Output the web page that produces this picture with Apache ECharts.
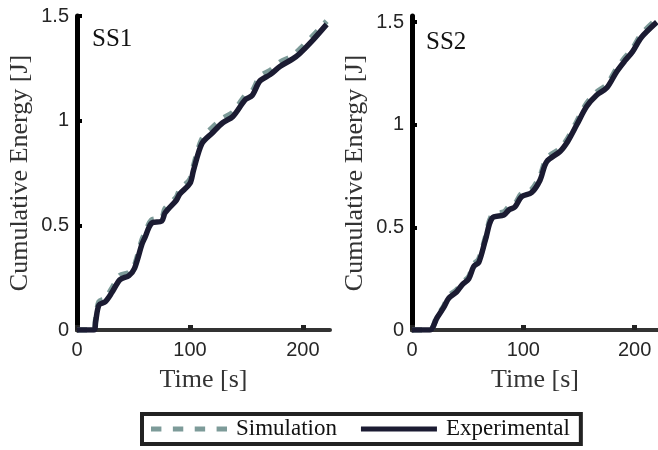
<!DOCTYPE html>
<html>
<head>
<meta charset="utf-8">
<script src="https://cdn.jsdelivr.net/npm/echarts@6/dist/echarts.min.js"></script>
<style>
html,body{margin:0;padding:0;background:#fff;}
#chart{width:658px;height:450px;}
</style>
</head>
<body>
<div id="chart"></div>
<script>
// ---- Data ----
const panelTitles = ['SS1', 'SS2'];
const seriesNames = ['Simulation', 'Experimental'];

const ss1Time = [0, 15, 16.5, 19.5, 25, 31, 38, 46, 51, 57.5, 60, 66, 75, 78, 88, 91, 100, 103, 110.5, 119.5, 129, 138, 149, 155, 162, 171, 180, 191, 197, 208, 221];
const ss1Exp  = [0, 0, 0.04, 0.12, 0.135, 0.18, 0.24, 0.26, 0.295, 0.41, 0.44, 0.51, 0.52, 0.56, 0.62, 0.65, 0.70, 0.76, 0.89, 0.94, 0.99, 1.02, 1.10, 1.12, 1.19, 1.22, 1.26, 1.295, 1.32, 1.38, 1.46];
const ss1Sim  = [0, 0, 0.05, 0.135, 0.15, 0.2, 0.26, 0.275, 0.31, 0.43, 0.46, 0.525, 0.535, 0.58, 0.635, 0.67, 0.72, 0.78, 0.91, 0.965, 1.01, 1.04, 1.12, 1.14, 1.21, 1.24, 1.28, 1.31, 1.34, 1.40, 1.475];

const ss2Time = [0, 16, 22.5, 28.5, 33, 40, 45, 51, 55.5, 60, 66, 72, 82.5, 87, 92.5, 98.5, 107.5, 115, 121, 133, 140, 148, 157, 166, 175, 184, 191, 198, 206, 220];
const ss2Exp  = [0, 0, 0.06, 0.11, 0.155, 0.185, 0.22, 0.25, 0.31, 0.33, 0.44, 0.545, 0.56, 0.585, 0.60, 0.65, 0.67, 0.73, 0.82, 0.87, 0.92, 1.0, 1.09, 1.145, 1.18, 1.26, 1.31, 1.355, 1.425, 1.50];
const ss2Sim  = [0, 0, 0.065, 0.115, 0.165, 0.195, 0.23, 0.26, 0.32, 0.345, 0.45, 0.56, 0.575, 0.60, 0.615, 0.665, 0.685, 0.75, 0.835, 0.885, 0.935, 1.015, 1.105, 1.16, 1.195, 1.275, 1.325, 1.37, 1.44, 1.515];

const xTicks = [0, 100, 200];
const yTicks = [0, 0.5, 1, 1.5];

// ---- Build ----
function pairs(t, v) { return t.map((x, i) => [x, v[i]]); }

const serif = 'Liberation Serif';
const sans = 'Liberation Sans';

function xAxis(idx, max) {
  return {
    type: 'value', gridIndex: idx, min: 0, max: max, interval: 100,
    name: 'Time [s]', nameLocation: 'middle', nameGap: 37,
    nameTextStyle: { fontFamily: serif, fontSize: 26, color: '#333' },
    axisLine: { show: true, lineStyle: { color: '#333', width: 4 } },
    axisTick: { show: true, inside: true, length: 5, lineStyle: { color: '#222', width: 5 } },
    axisLabel: { fontFamily: sans, fontSize: 20, color: '#262626', margin: 10, showMaxLabel: false,
      formatter: v => xTicks.indexOf(v) >= 0 ? String(v) : '' },
    splitLine: { show: false }
  };
}
function yAxis(idx, max) {
  return {
    type: 'value', gridIndex: idx, min: 0, max: max, interval: 0.5,
    name: 'Cumulative Energy [J]', nameLocation: 'middle', nameGap: 44,
    nameTextStyle: { fontFamily: serif, fontSize: 26, color: '#333' },
    axisLine: { show: true, lineStyle: { color: '#000', width: 5 } },
    axisTick: { show: true, inside: true, length: 5, lineStyle: { color: '#000', width: 4 } },
    axisLabel: { fontFamily: sans, fontSize: 20, color: '#262626', margin: 8, showMaxLabel: max === 1.5,
      formatter: v => yTicks.indexOf(v) >= 0 ? String(v) : '' },
    splitLine: { show: false }
  };
}

const simStyle = { color: '#7d9b99', width: 5.5, type: [10, 10] };
const expStyle = { color: '#1b1b32', width: 5.5 };

const dashIcon = 'path://M0,0h10v5h-10z M21,0h10v5h-10z M42,0h10v5h-10z M63,0h10v5h-10z';
const solidIcon = 'path://M0,0h76v5h-76z';

const option = {
  backgroundColor: '#fff',
  animation: false,
  title: [
    { text: panelTitles[0], left: 92, top: 27, padding: 0,
      textStyle: { fontFamily: serif, fontSize: 25, fontWeight: 'normal', color: '#111' } },
    { text: panelTitles[1], left: 426, top: 30, padding: 0,
      textStyle: { fontFamily: serif, fontSize: 25, fontWeight: 'normal', color: '#111' } }
  ],
  grid: [
    { left: 77, top: 16, width: 253, bottom: 120 },
    { left: 412, top: 16, right: 0, bottom: 120 }
  ],
  xAxis: [xAxis(0, 224), xAxis(1, 221)],
  yAxis: [yAxis(0, 1.5), yAxis(1, 1.53)],
  legend: {
    data: [
      { name: seriesNames[0], icon: dashIcon, itemStyle: { color: '#7d9b99' } },
      { name: seriesNames[1], icon: solidIcon, itemStyle: { color: '#1b1b32' } }
    ],
    left: 142, top: 414,
    orient: 'horizontal',
    itemWidth: 76, itemHeight: 5, itemGap: 24,
    symbolKeepAspect: false,
    padding: [3, 11, 3, 9],
    borderColor: '#222', borderWidth: 4,
    backgroundColor: '#fff',
    textStyle: { fontFamily: serif, fontSize: 23, color: '#111', lineHeight: 24, padding: [0, 0, 0, 4] }
  },
  series: [
    { name: seriesNames[0], type: 'line', xAxisIndex: 0, yAxisIndex: 0, data: pairs(ss1Time, ss1Sim),
      showSymbol: false, symbol: 'none', smooth: 0.3, lineStyle: simStyle, itemStyle: { color: simStyle.color }, z: 2 },
    { name: seriesNames[1], type: 'line', xAxisIndex: 0, yAxisIndex: 0, data: pairs(ss1Time, ss1Exp),
      showSymbol: false, symbol: 'none', smooth: 0.3, lineStyle: expStyle, itemStyle: { color: expStyle.color }, z: 3 },
    { name: seriesNames[0], type: 'line', xAxisIndex: 1, yAxisIndex: 1, data: pairs(ss2Time, ss2Sim),
      showSymbol: false, symbol: 'none', smooth: 0.3, lineStyle: simStyle, itemStyle: { color: simStyle.color }, z: 2 },
    { name: seriesNames[1], type: 'line', xAxisIndex: 1, yAxisIndex: 1, data: pairs(ss2Time, ss2Exp),
      showSymbol: false, symbol: 'none', smooth: 0.3, lineStyle: expStyle, itemStyle: { color: expStyle.color }, z: 3 }
  ]
};

const chart = echarts.init(document.getElementById('chart'), null, { renderer: 'canvas' });
chart.setOption(option);
</script>
</body>
</html>
